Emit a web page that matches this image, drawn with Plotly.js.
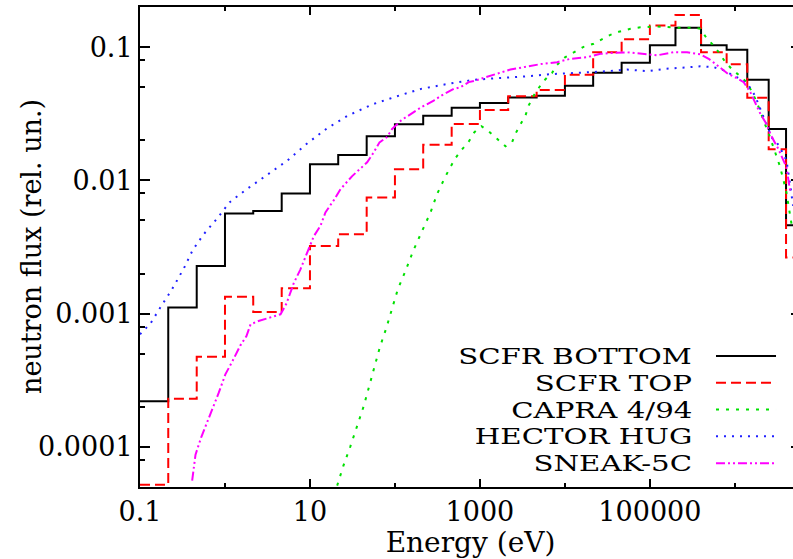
<!DOCTYPE html>
<html>
<head>
<meta charset="utf-8">
<script src="https://cdn.plot.ly/plotly-3.0.1.min.js"></script>
<style>
  html, body { margin: 0; padding: 0; overflow: hidden; background: #fff; }
  #chart { width: 811px; height: 559px; }
</style>
</head>
<body>
<div id="chart"></div>
<script>
// ---------------- data ----------------
// group boundaries (eV) for the step spectra
const binEdges = [0.1, 0.215, 0.465, 1, 2.15, 4.65, 10, 21.5, 46.5, 100, 215, 465, 1000, 2150, 4650,
  1e4, 2.15e4, 4.65e4, 1e5, 2e5, 4e5, 8e5, 1.4e6, 2.5e6, 4e6, 1e7];

const scfrBottom = [2.2e-4, 1.11e-3, 2.28e-3, 5.65e-3, 5.88e-3, 7.98e-3, 0.0132, 0.0155, 0.0214, 0.0264,
  0.0306, 0.035, 0.0381, 0.0418, 0.0431, 0.0512, 0.0641, 0.0762, 0.1031, 0.1396, 0.1031, 0.0954,
  0.0568, 0.0243, 4.61e-3];

const scfrTop = [5.2e-5, 2.3e-4, 4.75e-4, 1.34e-3, 1.03e-3, 1.55e-3, 3.22e-3, 3.95e-3, 7.45e-3, 0.0121,
  0.0185, 0.0265, 0.0338, 0.0428, 0.0477, 0.0619, 0.0914, 0.1145, 0.145, 0.174, 0.0917, 0.0745,
  0.0417, 0.0171, 2.64e-3];

const capraE = [20.9, 24.6, 29.9, 35.9, 42.9, 49.2, 57.4, 66.2, 79.4, 92.7, 108, 133, 164, 209, 262, 313,
  393, 506, 606, 738, 861, 1042, 1270, 1592, 2000, 2393, 2618, 2995, 3430, 3750, 4295, 5058, 5636, 7063,
  8090, 1.01e4, 1.27e4, 1.66e4, 2.18e4, 2.74e4, 3.43e4, 4.3e4, 5.9e4, 7.73e4, 1.16e5, 2.29e5, 3.28e5,
  3.93e5, 4.71e5, 5.39e5, 6.45e5, 7.73e5, 9.27e5, 1.16e6, 1.37e6, 1.52e6, 1.74e6, 2.0e6, 2.18e6, 2.46e6,
  2.74e6, 3.0e6, 3.37e6, 3.75e6, 4.04e6, 4.41e6, 4.75e6];
const capraFlux = [5.12e-5, 7.15e-5, 1.01e-4, 1.43e-4, 2.02e-4, 2.78e-4, 3.93e-4, 5.55e-4, 7.85e-4, 1.08e-3,
  1.52e-3, 2.09e-3, 2.96e-3, 4.18e-3, 5.74e-3, 7.89e-3, 0.01072, 0.01446, 0.0169, 0.0195, 0.0230, 0.0255,
  0.0233, 0.0205, 0.0180, 0.0194, 0.0224, 0.0263, 0.0306, 0.0365, 0.0433, 0.0506, 0.0558, 0.0641, 0.0736,
  0.0841, 0.0917, 0.1005, 0.106, 0.1154, 0.1237, 0.1303, 0.1373, 0.1409, 0.1429, 0.1396, 0.1396, 0.1373,
  0.1154, 0.1059, 0.0917, 0.0771, 0.0681, 0.0603, 0.0546, 0.0486, 0.0409, 0.0329, 0.0279, 0.0232, 0.01875,
  0.0158, 0.0129, 9.93e-3, 8.13e-3, 5.74e-3, 4.3e-3];

const hectorE = [0.1, 0.133, 0.179, 0.235, 0.286, 0.334, 0.418, 0.563, 0.809, 1.13, 1.74, 2.99, 5.39, 9.10,
  15.9, 27.9, 54.8, 106, 203, 423, 846, 1592, 3251, 6746, 1.59e4, 2.74e4, 5.39e4, 9.27e4, 1.52e5, 2.62e5,
  3.93e5, 5.64e5, 7.39e5, 9.68e5, 1.16e6, 1.45e6, 1.74e6, 2.09e6, 2.39e6, 2.74e6, 3.28e6, 4.04e6, 4.4e6, 4.84e6];
const hectorFlux = [7.0e-4, 8.45e-4, 1.148e-3, 1.50e-3, 1.87e-3, 2.24e-3, 3.01e-3, 3.95e-3, 5.18e-3, 6.84e-3,
  8.45e-3, 0.01072, 0.01403, 0.01875, 0.0246, 0.0306, 0.0373, 0.0428, 0.0486, 0.0530, 0.0568, 0.0585, 0.0601,
  0.0627, 0.0641, 0.0655, 0.0679, 0.0660, 0.0687, 0.0699, 0.0717, 0.0707, 0.0669, 0.0611, 0.0578, 0.0516,
  0.0428, 0.0318, 0.0256, 0.0208, 0.0184, 0.0142, 0.0100, 6.44e-3];

const sneakE = [0.411, 0.450, 0.525, 0.614, 0.707, 0.845, 1.01, 1.22, 1.52, 1.79, 2.0, 2.48, 3.25, 4.50, 5.29,
  6.44, 7.73, 9.10, 11.1, 13.3, 15.2, 19.1, 22.9, 31.4, 37.5, 47.1, 56.4, 65.8, 80.5, 92.7, 119, 174, 200,
  286, 352, 492, 590, 738, 885, 1109, 1592, 2285, 3275, 5150, 8090, 1.16e4, 1.82e4, 2.62e4, 3.43e4, 5.39e4,
  8.1e4, 1.22e5, 1.91e5, 2.74e5, 3.93e5, 4.92e5, 5.9e5, 7.07e5, 8.28e5, 1.07e6, 1.27e6, 1.52e6, 1.74e6,
  2.0e6, 2.29e6, 2.69e6, 3.25e6, 4.04e6, 4.5e6];
const sneakFlux = [5.58e-5, 8.75e-5, 1.18e-4, 1.50e-4, 1.91e-4, 2.55e-4, 3.50e-4, 4.38e-4, 5.78e-4, 6.79e-4,
  8.31e-4, 8.80e-4, 9.27e-4, 9.88e-4, 1.19e-3, 1.69e-3, 2.15e-3, 2.79e-3, 3.81e-3, 4.56e-3, 5.74e-3, 7.11e-3,
  8.6e-3, 0.01077, 0.01195, 0.01365, 0.01625, 0.0193, 0.0211, 0.0243, 0.0283, 0.0332, 0.0351, 0.0397, 0.0433,
  0.0486, 0.0500, 0.0546, 0.0561, 0.0588, 0.0635, 0.0679, 0.0707, 0.0745, 0.0771, 0.0817, 0.0841, 0.0891,
  0.0902, 0.0914, 0.0891, 0.0868, 0.0917, 0.0914, 0.0883, 0.0817, 0.0749, 0.0687, 0.0631, 0.0582, 0.0546,
  0.0459, 0.0386, 0.0315, 0.0273, 0.0215, 0.0172, 0.0126, 8.13e-3];

const seriesNames = ['SCFR BOTTOM', 'SCFR TOP', 'CAPRA 4/94', 'HECTOR HUG', 'SNEAK-5C'];

const xTickVals = [0.1, 10, 1000, 100000];
const xTickText = ['0.1', '10', '1000', '100000'];
const xMinorVals = [1, 100, 1e4, 1e6];
const yTickVals = [1e-4, 1e-3, 1e-2, 0.1];
const yTickText = ['0.0001', '0.001', '0.01', '0.1'];
const yMinorVals = [8e-5, 2e-4, 5e-4, 8e-4, 2e-3, 5e-3, 8e-3, 2e-2, 5e-2, 8e-2];

const xTitle = 'Energy (eV)';
const yTitle = 'neutron flux (rel. un.)';

// ---------------- styles ----------------
const FONT = 'DejaVu Serif';
const styles = [
  {color: '#000000', dash: 'solid', width: 2},
  {color: '#ff0000', dash: '10px,5px', width: 2},
  {color: '#00e000', dash: '3px,7px', width: 2},
  {color: '#2020ff', dash: '2px,6px', width: 2},
  {color: '#ff00ff', dash: '9px,3px,2px,3px,2px,3px', width: 2}
];

const stepY = v => v.concat([v[v.length - 1]]);

const xs = [binEdges, binEdges, capraE, hectorE, sneakE];
const ys = [stepY(scfrBottom), stepY(scfrTop), capraFlux, hectorFlux, sneakFlux];

const traces = seriesNames.map((name, i) => ({
  type: 'scatter', mode: 'lines', name: name,
  x: xs[i], y: ys[i],
  line: {color: styles[i].color, dash: styles[i].dash, width: styles[i].width,
         shape: i < 2 ? 'hv' : 'linear'},
  cliponaxis: true, hoverinfo: 'skip'
}));

// legend drawn gnuplot-style: right-aligned text, sample to the right
const legTextX = 0.8366, legLineX0 = 0.8714, legLineX1 = 0.9622;
const legY0 = 0.2729, legDy = 0.0558;
const annotations = seriesNames.map((name, i) => ({
  xref: 'paper', yref: 'paper', x: legTextX, y: legY0 - i * legDy,
  xanchor: 'right', yanchor: 'middle', text: name, showarrow: false,
  borderpad: 0, name: 'legend',
  font: {family: FONT, size: 22.5, color: '#000'}
}));
// y-axis title placed as rotated annotation
annotations.push({
  xref: 'paper', yref: 'paper', x: -0.1649, y: 0.5, xanchor: 'center', yanchor: 'middle',
  text: yTitle, textangle: -90, showarrow: false, borderpad: 0,
  font: {family: FONT, size: 27, color: '#000'}
});
const shapes = seriesNames.map((name, i) => ({
  type: 'line', xref: 'paper', yref: 'paper',
  x0: legLineX0, x1: legLineX1, y0: legY0 - i * legDy, y1: legY0 - i * legDy,
  line: {color: styles[i].color, dash: styles[i].dash, width: styles[i].width}
}));

const axisCommon = {
  type: 'log', tickmode: 'array', ticks: 'inside', tickwidth: 2, tickcolor: '#000',
  showline: true, linewidth: 2, linecolor: '#000', mirror: 'ticks',
  showgrid: false, zeroline: false,
  tickfont: {family: FONT, size: 27, color: '#000'}
};

const layout = {
  width: 811, height: 559,
  margin: {l: 140, r: 10, t: 7, b: 72},
  paper_bgcolor: '#ffffff', plot_bgcolor: '#ffffff',
  showlegend: false,
  font: {family: FONT, size: 27, color: '#000'},
  xaxis: Object.assign({}, axisCommon, {
    range: [-1, Math.log10(6e6)],
    tickvals: xTickVals, ticktext: xTickText, ticklen: 8,
    minor: {tickmode: 'array', tickvals: xMinorVals, ticks: 'inside', ticklen: 4,
            tickwidth: 2, tickcolor: '#000', showgrid: false},
    title: {text: xTitle, font: {family: FONT, size: 28, color: '#000'}, standoff: 4}
  }),
  yaxis: Object.assign({}, axisCommon, {
    range: [Math.log10(5e-5), Math.log10(0.2)],
    tickvals: yTickVals, ticktext: yTickText, ticklen: 10,
    minor: {tickmode: 'array', tickvals: yMinorVals, ticks: 'inside', ticklen: 5,
            tickwidth: 2, tickcolor: '#000', showgrid: false}
  }),
  annotations: annotations,
  shapes: shapes
};

Plotly.newPlot('chart', traces, layout, {staticPlot: true, displayModeBar: false}).then(gd => {
  // widen the legend lettering (gnuplot's broad serif face), anchored at its right edge
  const texts = gd.querySelectorAll('.annotation .annotation-text');
  for (let i = 0; i < seriesNames.length && i < texts.length; i++) {
    const t = texts[i];
    t.style.transformBox = 'fill-box';
    t.style.transformOrigin = '100% 50%';
    t.style.transform = 'scaleX(1.3)';
  }
});
</script>
</body>
</html>
